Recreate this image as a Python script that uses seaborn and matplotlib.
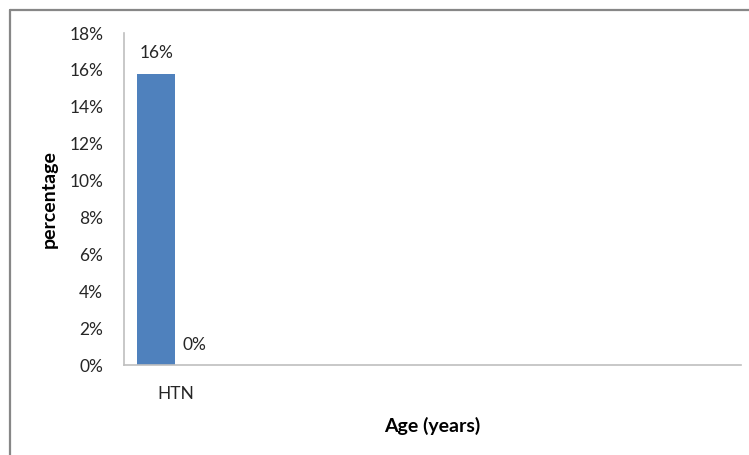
import matplotlib
matplotlib.use("Agg")
import matplotlib.pyplot as plt
from matplotlib.lines import Line2D
from matplotlib.ticker import FuncFormatter, MultipleLocator
import seaborn as sns
import pandas as pd

# Data
categories = ["HTN"]
series_names = ["Group 1", "Group 2"]
group1_values = [15.8]
group2_values = [0.0]
bar_colors = ["#4F81BD", "#C0504D"]
y_ticks_max = 18
n_slots = 6  # the age axis has room for six groups

rows = []
for name, vals in zip(series_names, [group1_values, group2_values]):
    for cat, v in zip(categories, vals):
        rows.append({"group": cat, "series": name, "value": v})
df = pd.DataFrame(rows)

sns.set_theme(style="white")
plt.rcParams["font.family"] = ["Lato", "DejaVu Sans"]

fig = plt.figure(figsize=(7.49, 4.55), dpi=100)
ax = fig.add_axes([124 / 749, 1 - 365 / 455, 617 / 749, 332 / 455])

sns.barplot(data=df, x="group", y="value", hue="series", order=categories,
            hue_order=series_names, palette=bar_colors, width=0.74,
            saturation=1, legend=False, ax=ax, linewidth=0)

for container in ax.containers:
    ax.bar_label(container, labels=[f"{v:.0f}%" for v in container.datavalues],
                 padding=9, fontsize=12.5, color="#262626")

ax.set_xlim(-0.5, n_slots - 0.5)
ax.set_ylim(0, y_ticks_max)
ax.yaxis.set_major_locator(MultipleLocator(2))
ax.yaxis.set_major_formatter(FuncFormatter(lambda v, p: f"{v:.0f}%"))

ax.tick_params(axis="y", length=0, pad=15, labelsize=12.5, labelcolor="#262626")
ax.tick_params(axis="x", length=0, pad=15, labelsize=12.5, labelcolor="#262626")

for side in ["top", "right"]:
    ax.spines[side].set_visible(False)
for side in ["left", "bottom"]:
    ax.spines[side].set_color("#BFBFBF")
    ax.spines[side].set_linewidth(1.2)

ax.set_xlabel("Age (years)", fontsize=14, fontweight="bold", color="black")
ax.set_ylabel("percentage", fontsize=14, fontweight="bold", color="black")
ax.xaxis.set_label_coords(0.5, -0.155)
ax.yaxis.set_label_coords(-0.107, 0.5)

# Outer frame (top and left edges)
fx = 10 / 749
fy = 1 - 10 / 455
fig.add_artist(Line2D([fx, 1], [fy, fy], transform=fig.transFigure,
                      color="#878787", linewidth=1.6))
fig.add_artist(Line2D([fx, fx], [0, fy], transform=fig.transFigure,
                      color="#878787", linewidth=1.6))

fig.savefig("out.png", dpi=100)
